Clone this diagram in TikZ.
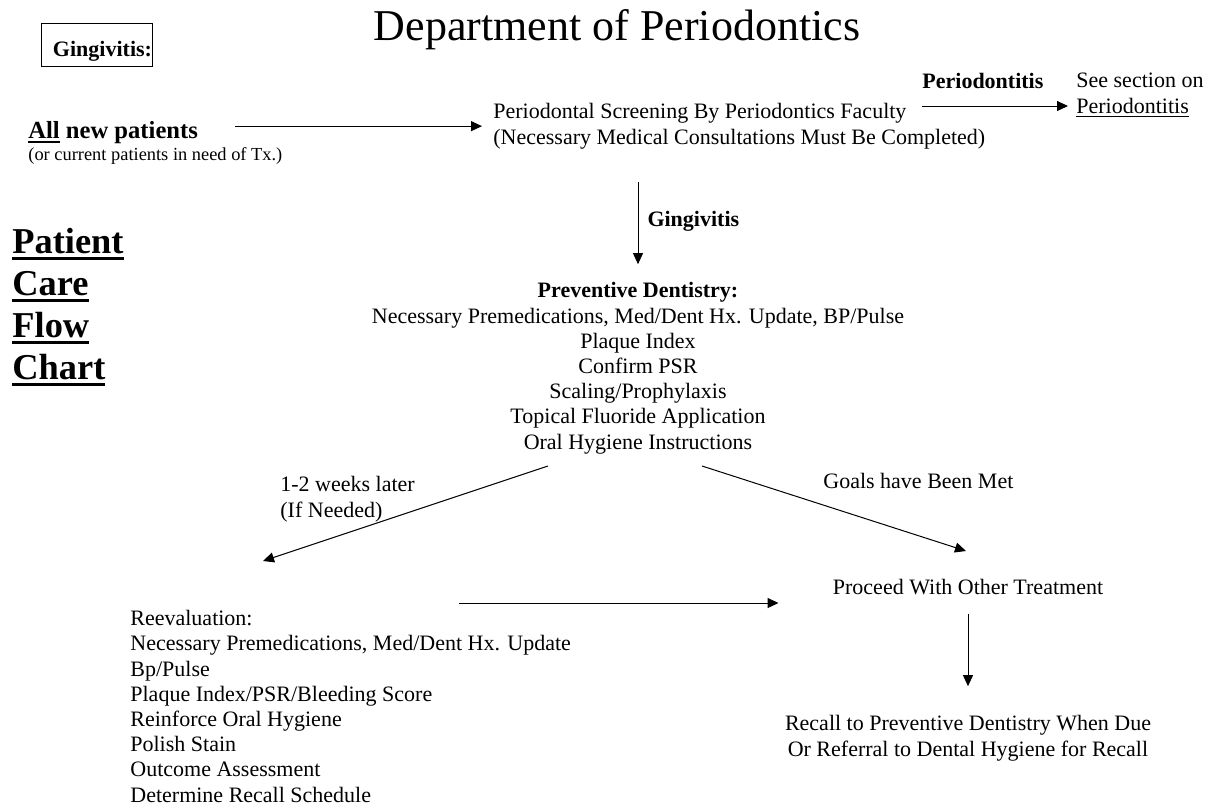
\documentclass[tikz,border=0pt]{standalone}
\usepackage{fontspec}
\setmainfont{Liberation Serif}
\usetikzlibrary{arrows.meta,calc}

\newsavebox{\ulbox}
\newcommand{\ulx}[3]{\sbox{\ulbox}{#3}\rlap{\rule[-#1]{\wd\ulbox}{#2}}\usebox{\ulbox}}

\tikzset{
  every node/.style={inner sep=0pt},
  arr/.style={line width=0.5pt,-{Triangle[length=5.5pt,width=5pt]}},
  body/.style={font=\fontsize{11}{12.6}\selectfont},
  bodyb/.style={font=\fontsize{11}{12.6}\selectfont\bfseries},
}

\begin{document}
\begin{tikzpicture}[x=0.5pt,y=-0.5pt]
      \useasboundingbox (0,0) rectangle (1217,805);

      % multi-line nodes sit on the baseline of their last line
      \node[anchor=base,font=\fontsize{22}{26}\selectfont] (title) at (617,40) {Department of Periodontics};
      \node[draw,line width=0.5pt,anchor=north west,inner xsep=0.25pt,inner ysep=0pt,text width=55pt,align=right,text height=16.5pt,text depth=5pt,bodyb] (gbox) at (41,23) {Gingivitis:};

      \node[anchor=base west,font=\fontsize{12.3}{14}\selectfont\bfseries] (allnew) at (28,138) {\ulx{2.5pt}{1pt}{All} new patients};
      \node[anchor=base west,font=\fontsize{9.2}{11}\selectfont] (curpat) at (28,160) {(or current patients in need of Tx.)};
      \node[anchor=base west,align=left,font=\fontsize{18.2}{21}\selectfont\bfseries] (pccf) at (12,379)
        {\ulx{3.5pt}{1.5pt}{Patient}\\\ulx{3.5pt}{1.5pt}{Care}\\\ulx{3.5pt}{1.5pt}{Flow}\\\ulx{3.5pt}{1.5pt}{Chart}};

      \node[anchor=base west,align=left,body] (screen) at (493,144)
        {Periodontal Screening By Periodontics Faculty\\(Necessary Medical Consultations Must Be Completed)};
      \node[anchor=base west,bodyb] (perio) at (922,88) {Periodontitis};
      \node[anchor=base west,align=left,body] (seesec) at (1076,113) {See section on\\\ulx{1.75pt}{0.5pt}{Periodontitis}};

      \node[anchor=base,align=center,body] (prev) at (638,449)
        {\textbf{Preventive Dentistry:}\\Necessary Premedications, Med/Dent Hx. Update, BP/Pulse\\Plaque Index\\Confirm PSR\\
         Scaling/Prophylaxis\\Topical Fluoride Application\\Oral Hygiene Instructions};

      \node[anchor=base west,align=left,body] (weeks) at (280,517) {1-2 weeks later\\(If Needed)};
      \node[anchor=base west,body] (goals) at (823,488) {Goals have Been Met};

      \node[anchor=base west,align=left,body] (reeval) at (130,802)
        {Reevaluation:\\Necessary Premedications, Med/Dent Hx. Update\\Bp/Pulse\\Plaque Index/PSR/Bleeding Score\\
         Reinforce Oral Hygiene\\Polish Stain\\Outcome Assessment\\Determine Recall Schedule};
      \node[anchor=base,body] (proceed) at (968,594) {Proceed With Other Treatment};
      \node[anchor=base,align=center,body] (recall) at (968,756)
        {Recall to Preventive Dentistry When Due\\Or Referral to Dental Hygiene for Recall};

      \coordinate (lfrom) at (548,466);
      \coordinate (lto) at (263,561);
      \coordinate (rfrom) at (702,466);
      \coordinate (rto) at (966,551);
      \coordinate (hfrom) at (459,603);

      \draw[arr,shorten <=18.5pt,shorten >=5.5pt] (allnew.east |- screen.west) -- (screen.west);
      \draw[arr,shorten >=4pt] ($(perio.base west)+(0,18)$) -- ($(seesec.west |- perio.base west)+(0,18)$);
      \draw[arr,shorten <=16.5pt,shorten >=9pt] (screen.south -| prev.north) -- (prev.north)
        node[pos=0.54,right=4.5pt,bodyb] (ginglab) {Gingivitis};
      \draw[arr] (lfrom) -- (lto);
      \draw[arr] (rfrom) -- (rto);
      \draw[arr,shorten >=27pt] (hfrom) -- (hfrom -| proceed.west);
      \draw[arr,shorten <=9.5pt,shorten >=14.5pt] (proceed.south) -- (recall.north);
\end{tikzpicture}
\end{document}
